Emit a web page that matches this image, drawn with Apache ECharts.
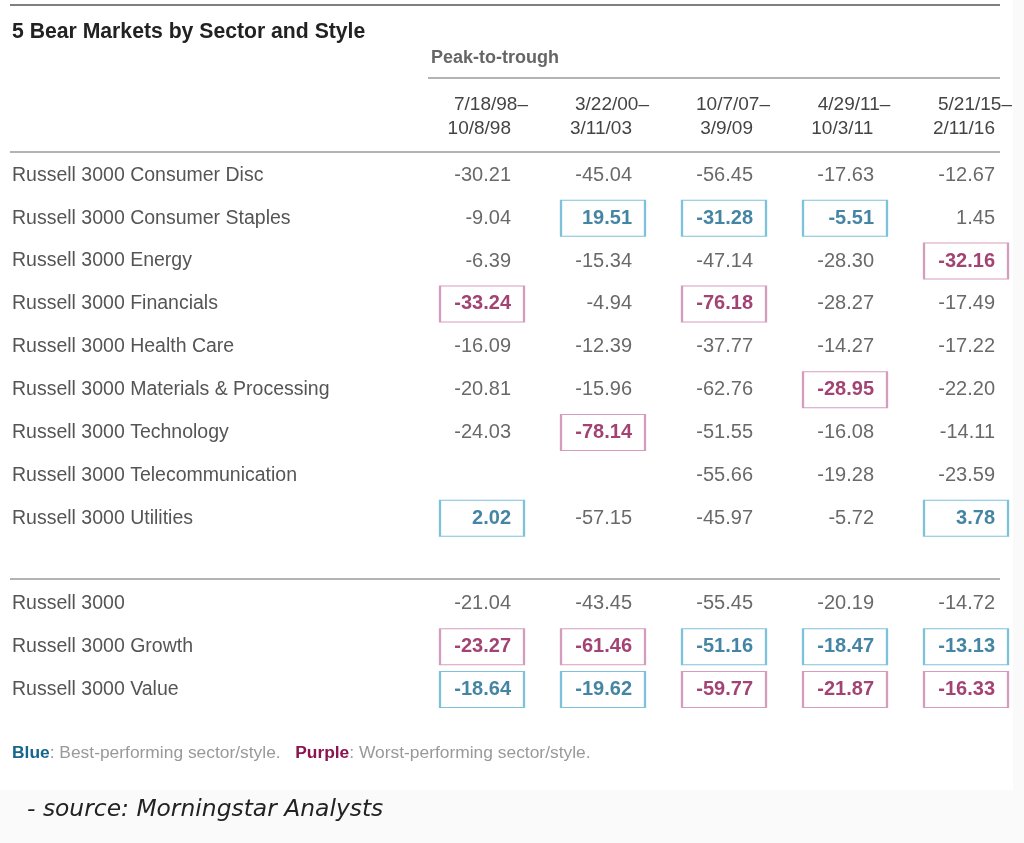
<!DOCTYPE html>
<html>
<head>
<meta charset="utf-8">
<script src="https://cdn.jsdelivr.net/npm/echarts@6/dist/echarts.min.js"></script>
<style>
html,body{margin:0;padding:0;background:#fafafa;}
#chart{width:1024px;height:843px;}
</style>
</head>
<body>
<div id="chart"></div>
<script>
// ---- data ----
const periodStart = ['7/18/98–', '3/22/00–', '10/7/07–', '4/29/11–', '5/21/15–'];
const periodEnd = ['10/8/98', '3/11/03', '3/9/09', '10/3/11', '2/11/16'];
const rowNames = [
  'Russell 3000 Consumer Disc',
  'Russell 3000 Consumer Staples',
  'Russell 3000 Energy',
  'Russell 3000 Financials',
  'Russell 3000 Health Care',
  'Russell 3000 Materials & Processing',
  'Russell 3000 Technology',
  'Russell 3000 Telecommunication',
  'Russell 3000 Utilities',
  '',
  'Russell 3000',
  'Russell 3000 Growth',
  'Russell 3000 Value'
];
const bear1998 = [-30.21, -9.04, -6.39, -33.24, -16.09, -20.81, -24.03, null, 2.02, null, -21.04, -23.27, -18.64];
const bear2000 = [-45.04, 19.51, -15.34, -4.94, -12.39, -15.96, -78.14, null, -57.15, null, -43.45, -61.46, -19.62];
const bear2007 = [-56.45, -31.28, -47.14, -76.18, -37.77, -62.76, -51.55, -55.66, -45.97, null, -55.45, -51.16, -59.77];
const bear2011 = [-17.63, -5.51, -28.30, -28.27, -14.27, -28.95, -16.08, -19.28, -5.72, null, -20.19, -18.47, -21.87];
const bear2015 = [-12.67, 1.45, -32.16, -17.49, -17.22, -22.20, -14.11, -23.59, 3.78, null, -14.72, -13.13, -16.33];
// groups compared for best / worst
const sectorRows = [0, 1, 2, 3, 4, 5, 6, 7, 8];
const styleRows = [11, 12];

// ---- styles ----
const SANS = '"Liberation Sans", Arial, sans-serif';
const BLUE_TXT = '#17678d', BLUE_BOX = '#5db3d1';
const PURP_TXT = '#8c1450', PURP_BOX = '#cb84ac';

const columns = [bear1998, bear2000, bear2007, bear2011, bear2015];

function marks(col) {
  const res = {};
  [sectorRows, styleRows].forEach(g => {
    const vals = g.filter(r => col[r] != null);
    let best = vals[0], worst = vals[0];
    vals.forEach(r => { if (col[r] > col[best]) best = r; if (col[r] < col[worst]) worst = r; });
    res[best] = 'best'; res[worst] = 'worst';
  });
  return res;
}

const points = [];
columns.forEach((col, c) => {
  const m = marks(col);
  col.forEach((v, r) => {
    if (v == null) return;
    const kind = m[r];
    points.push({
      value: [c, r, v],
      itemStyle: kind ? {
        color: '#ffffff',
        borderColor: kind === 'best' ? BLUE_BOX : PURP_BOX,
        borderWidth: 1.5
      } : { color: 'rgba(0,0,0,0)', borderWidth: 0 },
      label: {
        color: kind === 'best' ? BLUE_TXT : (kind === 'worst' ? PURP_TXT : '#444'),
        fontWeight: kind ? 'bold' : 'normal'
      }
    });
  });
});

const chart = echarts.init(document.getElementById('chart'), null, { renderer: 'canvas' });
const GRID_TOP = 154, GRID_H = 557;
const RULE = '#9a9a9a';

chart.setOption({
  backgroundColor: '#fafafa',
  animation: false,
  title: [
    { text: '5 Bear Markets by Sector and Style', left: 7, top: 17,
      textStyle: { fontFamily: SANS, fontSize: 21.2, fontWeight: 'bold', color: '#222' } },
    { text: 'Peak-to-trough', left: 426, top: 44,
      textStyle: { fontFamily: SANS, fontSize: 18, fontWeight: 'bold', color: '#666' } },
    { text: '{b|Blue}: Best-performing sector/style.   {p|Purple}: Worst-performing sector/style.',
      left: 7, top: 740,
      textStyle: { fontFamily: SANS, fontSize: 17.4, fontWeight: 'normal', color: '#999',
        rich: {
          b: { fontFamily: SANS, fontSize: 17.4, fontWeight: 'bold', color: BLUE_TXT },
          p: { fontFamily: SANS, fontSize: 17.4, fontWeight: 'bold', color: PURP_TXT }
        } } },
    { text: '- source: Morningstar Analysts', left: 22, top: 793,
      textStyle: { fontFamily: '"DejaVu Sans", Verdana, sans-serif', fontSize: 23.4,
        fontStyle: 'italic', fontWeight: 'normal', color: '#222' } }
  ],
  graphic: [
    { type: 'rect', shape: { x: 0, y: 0, width: 1013, height: 790 }, style: { fill: '#ffffff' }, silent: true, z: -10 },
    { type: 'line', shape: { x1: 10, y1: 5, x2: 1000, y2: 5 }, style: { stroke: '#808080', lineWidth: 2 } },
    { type: 'line', shape: { x1: 428, y1: 78, x2: 1000, y2: 78 }, style: { stroke: RULE, lineWidth: 1.5 } },
    { type: 'line', shape: { x1: 10, y1: 152, x2: 1000, y2: 152 }, style: { stroke: RULE, lineWidth: 1.5 } },
    { type: 'line', shape: { x1: 10, y1: 579, x2: 1000, y2: 579 }, style: { stroke: RULE, lineWidth: 1.5 } }
  ],
  grid: [
    { left: 10, width: 990, top: GRID_TOP, height: GRID_H },
    { left: 482, width: 484, top: GRID_TOP, height: GRID_H }
  ],
  xAxis: [
    { gridIndex: 0, type: 'value', show: false, min: 0, max: 1 },
    { gridIndex: 1, type: 'category', position: 'top', boundaryGap: false,
      data: periodStart.map((s, i) => s + '\n' + periodEnd[i]),
      axisLine: { show: false }, axisTick: { show: false }, splitLine: { show: false },
      axisLabel: {
        interval: 0, margin: 13,
        formatter: function (v) { const p = v.split('\n'); return '{a|' + p[0] + '}\n{b|' + p[1] + '}'; },
        rich: {
          a: { fontFamily: SANS, fontSize: 19, color: '#444', align: 'right', lineHeight: 24, padding: [0, 0, 0, 18] },
          b: { fontFamily: SANS, fontSize: 19, color: '#444', align: 'right', lineHeight: 24, padding: [0, 17, 0, 0] }
        }
      } }
  ],
  yAxis: [
    { gridIndex: 0, type: 'category', inverse: true, boundaryGap: true, data: rowNames,
      axisLine: { show: false }, axisTick: { show: false }, splitLine: { show: false },
      axisLabel: { interval: 0, align: 'left', margin: -2, fontFamily: SANS, fontSize: 19.5, color: '#555' } },
    { gridIndex: 1, type: 'category', inverse: true, boundaryGap: true, data: rowNames, show: false }
  ],
  series: [{
    type: 'scatter',
    xAxisIndex: 1, yAxisIndex: 1,
    symbol: 'rect',
    symbolSize: [84, 36],
    data: points,
    label: {
      show: true, position: 'inside', align: 'right', offset: [29, 0],
      fontFamily: SANS, fontSize: 20,
      formatter: function (p) { return p.value[2].toFixed(2); }
    }
  }]
});
</script>
</body>
</html>
